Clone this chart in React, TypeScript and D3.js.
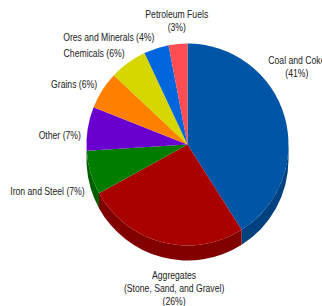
import { useRef, useEffect } from 'react'
import * as d3 from 'd3'

const categories = [
  'Coal and Coke',
  'Aggregates',
  'Iron and Steel',
  'Other',
  'Grains',
  'Chemicals',
  'Ores and Minerals',
  'Petroleum Fuels',
]
const shares = [41, 26, 7, 7, 6, 6, 4, 3]
const colors = ['#0055a6', '#a90000', '#007d00', '#6a00cf', '#ff8000', '#d6d600', '#0066dd', '#ff4d52']
// text shown for each slice, one entry per line; percent is added after
const labelLines = [
  ['Coal and Coke'],
  ['Aggregates', '(Stone, Sand, and Gravel)'],
  ['Iron and Steel'],
  ['Other'],
  ['Grains'],
  ['Chemicals'],
  ['Ores and Minerals'],
  ['Petroleum Fuels'],
]

export default function App() {
  const svgRef = useRef<SVGSVGElement>(null)

  useEffect(() => {
    if (!svgRef.current) return
    const svg = d3.select(svgRef.current)
    svg.selectAll('*').remove()

    const width = 322
    const height = 306
    const cx = 187.5
    const cy = 144.5
    const r = 101
    const depth = 15

    svg.attr('width', width).attr('height', height)

    const pie = d3.pie<number>().sort(null).value((d) => d)
    const arcs = pie(shares)
    const arc = d3.arc<d3.PieArcDatum<number>>().innerRadius(0).outerRadius(r)

    const pt = (a: number, rad: number, dy = 0) => [cx + rad * Math.sin(a), cy - rad * Math.cos(a) + dy]

    // side walls, only the front half (90deg..270deg) shows
    const sides = svg.append('g')
    arcs.forEach((d, i) => {
      const a0 = Math.max(d.startAngle, Math.PI / 2)
      const a1 = Math.min(d.endAngle, (3 * Math.PI) / 2)
      if (a1 <= a0) return
      const [x0, y0] = pt(a0, r)
      const [x1, y1] = pt(a1, r)
      const large = a1 - a0 > Math.PI ? 1 : 0
      const p =
        `M${x0},${y0} A${r},${r} 0 ${large} 1 ${x1},${y1} ` +
        `L${x1},${y1 + depth} A${r},${r} 0 ${large} 0 ${x0},${y0 + depth} Z`
      sides
        .append('path')
        .attr('d', p)
        .attr('fill', d3.color(colors[i])!.darker(0.75).formatHex())
    })

    // top face
    const top = svg.append('g').attr('transform', `translate(${cx},${cy})`)
    top
      .selectAll('path')
      .data(arcs)
      .enter()
      .append('path')
      .attr('d', arc)
      .attr('fill', (_, i) => colors[i])

    const font = "'Liberation Sans', Arial, sans-serif"

    // no narrow face installed: squeeze the regular one to the reference width
    const probe = svg
      .append('text')
      .attr('font-family', font)
      .attr('font-size', '11px')
      .text('Petroleum Fuels')
    const sx = 63 / (probe.node() as SVGTextElement).getComputedTextLength()
    probe.remove()

    // labels
    const tweak: Record<string, { angle?: number; extra?: number }> = {
      'Coal and Coke': { angle: 49, extra: 0 },
      Aggregates: { angle: 187, extra: 3 },
      Other: { angle: 275 },
      'Petroleum Fuels': { extra: 5 },
    }
    const lineH = 13
    arcs.forEach((d, i) => {
      const name = categories[i]
      const t = tweak[name] || {}
      const a = t.angle !== undefined ? (t.angle * Math.PI) / 180 : (d.startAngle + d.endAngle) / 2
      const rad = r + 6 + (t.extra || 0)
      const sin = Math.sin(a)
      const cos = Math.cos(a)
      const [ax, ay] = pt(a, rad, cos < 0 ? depth : 0)

      const lines =
        labelLines[i].length > 1 || name === 'Coal and Coke' || name === 'Petroleum Fuels'
          ? [...labelLines[i], `(${shares[i]}%)`]
          : [`${labelLines[i][0]} (${shares[i]}%)`]

      const g = svg.append('g')
      const text = g
        .append('text')
        .attr('text-anchor', 'middle')
        .attr('font-family', font)
        .attr('font-size', '11px')
        .attr('fill', '#222')
      lines.forEach((l, k) => {
        text.append('tspan').attr('x', 0).attr('y', k * lineH).text(l)
      })
      const bb = (text.node() as SVGTextElement).getBBox()
      const w = bb.width * sx
      let bx: number
      if (Math.abs(sin) < 0.25) bx = ax - w / 2
      else if (sin > 0) bx = ax
      else bx = ax - w
      const by = ay - bb.height / 2 - (cos * bb.height) / 2
      g.attr('transform', `translate(${bx - bb.x * sx},${by - bb.y}) scale(${sx},1)`)
    })
  }, [])

  return (
    <div style={{ position: 'absolute', left: 0, top: 0, width: 322, height: 306, background: '#fff' }}>
      <svg ref={svgRef} style={{ display: 'block' }} />
    </div>
  )
}
